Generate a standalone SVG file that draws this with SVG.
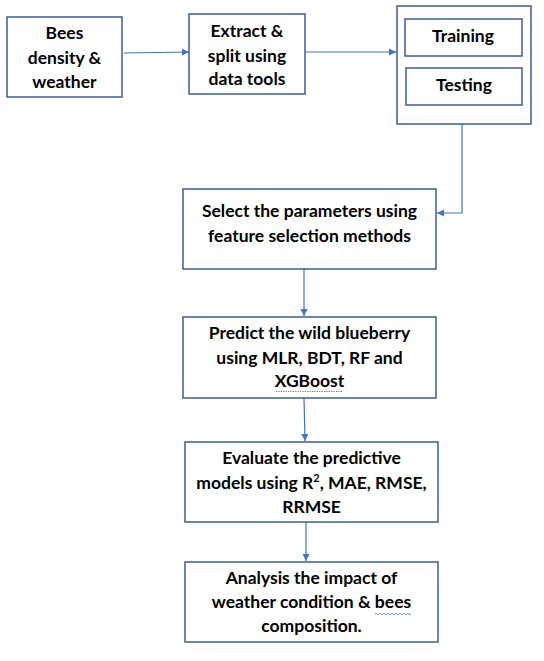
<svg xmlns="http://www.w3.org/2000/svg" width="544" height="661" viewBox="0 0 544 661">
<defs>
<style>
.box{fill:#fff;stroke:#2F528F;stroke-width:1.4}
.t{font-family:Lato,"Open Sans","Liberation Sans",sans-serif;font-weight:700;font-size:17.5px;fill:#000;text-anchor:middle}
.c{fill:none;stroke:#4472C4;stroke-width:1.2}
</style>
<marker id="ah" markerWidth="8" markerHeight="8" refX="7" refY="4" orient="auto" markerUnits="userSpaceOnUse">
<path d="M0,0.5 L7,4 L0,7.5 Z" fill="#4472C4"/>
</marker>
</defs>
<rect width="544" height="661" fill="#fff"/>
<g id="connectors">
<path class="c" d="M124,53 L189,52" marker-end="url(#ah)"/>
<path class="c" d="M305,52 L396,52" marker-end="url(#ah)"/>
<path class="c" d="M462,124 L462,213 L437,213" marker-end="url(#ah)"/>
<path class="c" d="M304,269 L304,316" marker-end="url(#ah)"/>
<path class="c" d="M304,398 L305,441" marker-end="url(#ah)"/>
<path class="c" d="M306,522 L306,561" marker-end="url(#ah)"/>
</g>
<g id="n1"><rect class="box" x="7" y="17" width="115" height="80"/>
<text class="t" x="64.5" y="39">Bees</text><text class="t" x="64.5" y="64">density &amp;</text><text class="t" x="64.5" y="88">weather</text></g>
<g id="n2"><rect class="box" x="189" y="14" width="116" height="80"/>
<text class="t" x="247" y="37">Extract &amp;</text><text class="t" x="247" y="62">split using</text><text class="t" x="247" y="85">data tools</text></g>
<g id="n3"><rect class="box" x="397" y="6" width="134" height="118"/></g>
<g id="n3a"><rect class="box" x="405" y="19" width="117" height="37"/><text class="t" x="463" y="42">Training</text></g>
<g id="n3b"><rect class="box" x="406" y="68" width="116" height="37"/><text class="t" x="464" y="91">Testing</text></g>
<g id="n4"><rect class="box" x="183" y="189" width="253" height="80"/>
<text class="t" x="309.5" y="217">Select the parameters using</text><text class="t" x="309.5" y="242">feature selection methods</text></g>
<g id="n5"><rect class="box" x="183" y="317" width="253" height="81"/>
<text class="t" x="309.5" y="339">Predict the wild blueberry</text><text class="t" x="309.5" y="364">using MLR, BDT, RF and</text><text class="t" x="309.5" y="387">XGBoost</text>
<path d="M276,391.5 L343,391.5" stroke="#E03030" stroke-width="0.9" stroke-dasharray="1.2,1.2" fill="none"/></g>
<g id="n6"><rect class="box" x="185" y="442" width="253" height="80"/>
<text class="t" x="311.5" y="464">Evaluate the predictive</text><text class="t" x="311.5" y="489">models using R<tspan font-size="11" dy="-7">2</tspan><tspan dy="7">, MAE, RMSE,</tspan></text><text class="t" x="311.5" y="513">RRMSE</text></g>
<g id="n7"><rect class="box" x="185" y="562" width="253" height="80"/>
<text class="t" x="311.5" y="584">Analysis the impact of</text><text class="t" x="311.5" y="608">weather condition &amp; bees</text><text class="t" x="311.5" y="632">composition.</text>
<path d="M375,614 q1,-1.2 2,0 t2,0 t2,0 t2,0 t2,0 t2,0 t2,0 t2,0 t2,0 t2,0 t2,0 t2,0 t2,0 t2,0 t2,0 t2,0 t2,0 t2,0" stroke="#4472C4" stroke-width="0.8" fill="none"/></g>
</svg>
